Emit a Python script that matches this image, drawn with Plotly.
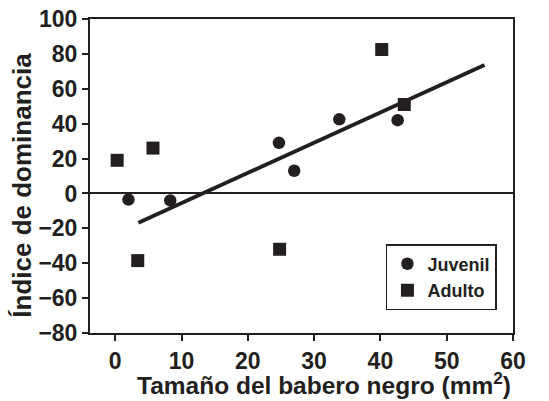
import plotly.graph_objects as go

juv_x = [2.0, 8.3, 24.7, 27.0, 33.8, 42.6]
juv_y = [-3.5, -4.0, 29.0, 13.0, 42.5, 42.0]
adu_x = [0.3, 5.7, 40.2, 43.6, 3.4, 24.8]
adu_y = [19.0, 26.0, 82.5, 51.0, -38.5, -32.0]
trend_x = [3.5, 55.7]
trend_y = [-16.8, 73.6]
x_ticks = [0, 10, 20, 30, 40, 50, 60]
y_ticks = [-80, -60, -40, -20, 0, 20, 40, 60, 80, 100]
x_title = "Tamaño del babero negro (mm<sup>2</sup>)"
y_title = "Índice de dominancia"

ink = "#231f20"
font_fam = "Arial, Liberation Sans, sans-serif"

def bold(v):
    s = str(v).replace("-", "\u2212")
    return "<b>" + s + "</b>"

fig = go.Figure()
fig.add_trace(go.Scatter(x=trend_x, y=trend_y, mode="lines",
                         line=dict(color=ink, width=3.8), showlegend=False, hoverinfo="skip"))
fig.add_trace(go.Scatter(x=juv_x, y=juv_y, mode="markers", name="<b>Juvenil</b>",
                         marker=dict(symbol="circle", size=12.5, color=ink)))
fig.add_trace(go.Scatter(x=adu_x, y=adu_y, mode="markers", name="<b>Adulto</b>",
                         marker=dict(symbol="square", size=13, color=ink)))

fig.update_layout(
    width=549, height=401,
    margin=dict(l=90, r=36, t=19, b=68),
    paper_bgcolor="white", plot_bgcolor="white",
    font=dict(family=font_fam, color=ink, size=22),
    legend=dict(x=0.962, y=0.073, xanchor="right", yanchor="bottom",
                bordercolor=ink, borderwidth=1.5, bgcolor="white",
                font=dict(size=18, family=font_fam, color=ink),
                itemwidth=30, tracegroupgap=0),
    xaxis=dict(range=[-3.8, 60], tickvals=x_ticks, ticktext=[bold(v) for v in x_ticks],
               ticks="outside", ticklen=6,
               tickwidth=2, tickcolor=ink, showline=True, linecolor=ink, linewidth=2,
               mirror=True, showgrid=False, zeroline=False, automargin=False,
               tickfont=dict(size=23)),
    yaxis=dict(range=[-80, 100], tickvals=y_ticks, ticktext=[bold(v) for v in y_ticks],
               ticks="outside", ticklen=6,
               tickwidth=2, tickcolor=ink, showline=True, linecolor=ink, linewidth=2,
               mirror=True, showgrid=False, zeroline=True, zerolinecolor=ink,
               zerolinewidth=2, automargin=False,
               tickfont=dict(size=23)),
    annotations=[
        dict(text="<b>" + x_title + "</b>", xref="paper", yref="paper",
             x=0.553, y=-0.162, xanchor="center", yanchor="middle", showarrow=False,
             font=dict(size=24.5, color=ink, family=font_fam)),
        dict(text="<b>" + y_title + "</b>", xref="paper", yref="paper",
             x=-0.161, y=0.472, xanchor="center", yanchor="middle", showarrow=False,
             textangle=-90, font=dict(size=26, color=ink, family=font_fam)),
    ],
)

fig.write_html("out.html", config={"displayModeBar": False},
               post_script="document.body.style.margin='0';document.body.style.padding='0';")
